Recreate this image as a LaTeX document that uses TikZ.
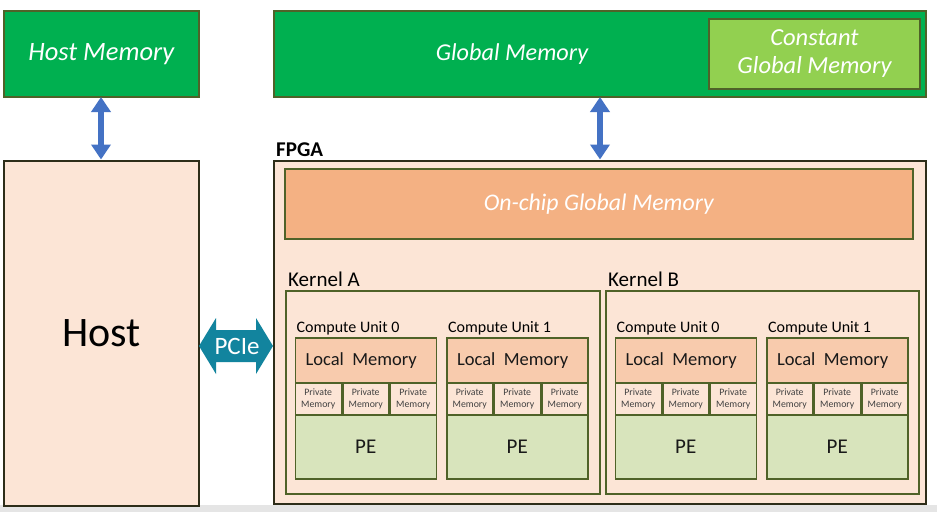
\documentclass[tikz,border=0pt]{standalone}
\usepackage{fontspec}
\setmainfont{Carlito}
\usetikzlibrary{arrows.meta,positioning}
\definecolor{gm}{RGB}{0,176,80}
\definecolor{cgm}{RGB}{146,208,80}
\definecolor{peach}{RGB}{252,229,214}
\definecolor{locm}{RGB}{248,203,173}
\definecolor{ocm}{RGB}{244,177,131}
\definecolor{pegreen}{RGB}{216,228,188}
\definecolor{olive}{RGB}{79,98,40}
\definecolor{darkb}{RGB}{45,45,25}
\definecolor{arrblue}{RGB}{68,114,196}
\definecolor{pcieteal}{RGB}{18,132,158}
\tikzset{
  box/.style={draw=olive, line width=1.5pt, anchor=north west, inner sep=0pt, align=center},
  lbl/.style={anchor=base west, inner sep=0pt},
  vbus/.style={arrblue, line width=6.5pt, {Triangle[width=19pt,length=15pt]}-{Triangle[width=19pt,length=15pt]}, shorten <=0.5pt, shorten >=0.5pt},
  privbox/.style={box, fill=peach, minimum width=46pt, minimum height=31pt, font=\fontsize{9.8}{11.5}\selectfont, text=black!75},
}
\newcommand{\cunit}[3]{%
  \node[lbl, font=\fontsize{16}{18}\selectfont] (#1lab) at (#2+2,332) {#3};
  \node[box, fill=locm, minimum width=141pt, minimum height=45pt, font=\fontsize{18.5}{22}\selectfont, text=black!90] (#1lm) at (#2,337) {Local\ \ Memory\hspace*{9pt}};
  \node[privbox] (#1p1) at (#2,382.5) {Private\\Memory};
  \node[privbox] (#1p2) at (#2+47.5,382.5) {Private\\Memory};
  \node[privbox] (#1p3) at (#2+95,382.5) {Private\\Memory};
  \node[box, fill=pegreen, minimum width=141pt, minimum height=64pt, font=\fontsize{21}{24}\selectfont, text=black!90] (#1pe) at (#2,414) {PE};
}
\begin{document}
\begin{tikzpicture}[x=1pt,y=-1pt]
\useasboundingbox (0,0) rectangle (937,512);
\fill[white] (0,0) rectangle (937,512);
\fill[black!10] (0,505) rectangle (937,512);
% top memories
\node[box, fill=gm, text=white, font=\itshape\fontsize{26.5}{30}\selectfont, minimum width=195pt, minimum height=86pt] (hm) at (3,10) {Host Memory};
\node[box, fill=gm, minimum width=652pt, minimum height=86pt] (gmem) at (273,10) {};
\node[text=white, font=\itshape\fontsize{24.2}{28}\selectfont, inner sep=0pt] (gmlab) at (512,54) {Global Memory};
\node[box, fill=cgm, text=white, line width=2pt, minimum width=211pt, minimum height=70pt, font=\itshape\fontsize{24.5}{28}\selectfont] (cgmem) at (708,18) {Constant\\Global Memory};
% host
\node[box, draw=darkb, fill=peach, minimum width=195pt, minimum height=345pt, font=\fontsize{42}{46}\selectfont] (host) at (3,160) {Host};
% FPGA
\node[lbl, font=\bfseries\fontsize{21}{24}\selectfont] (fpgalab) at (276,156) {FPGA};
\node[box, draw=darkb, fill=peach, minimum width=652pt, minimum height=343pt] (fpga) at (273,160) {};
\node[box, fill=ocm, text=white, minimum width=628pt, minimum height=70pt, font=\itshape\fontsize{23.8}{27}\selectfont] (ocgm) at (284,168) {On-chip Global Memory};
% buses
\coordinate (hmb) at (101,96.5);
\coordinate (hostt) at (101,160);
\draw[vbus] (hmb) -- (hostt);
\coordinate (gmb) at (600,96.5);
\coordinate (fpgat) at (600,160);
\draw[vbus] (gmb) -- (fpgat);
% PCIe
\fill[pcieteal] (199,346) -- (216,318) -- (216,330) -- (256,330) -- (256,318) -- (273,346) -- (256,374) -- (256,362) -- (216,362) -- (216,374) -- cycle;
\node[text=white, font=\fontsize{25}{28}\selectfont, inner sep=0pt] (pcie) at (237,346) {PCIe};
% kernels
\node[lbl, font=\fontsize{21}{24}\selectfont] (kalab) at (288,286) {Kernel A};
\node[box, minimum width=314pt, minimum height=203pt] (ka) at (285,290) {};
\node[lbl, font=\fontsize{21}{24}\selectfont] (kblab) at (608,286) {Kernel B};
\node[box, minimum width=313pt, minimum height=203pt] (kb) at (605,290) {};
\cunit{kacua}{294.5}{Compute Unit 0}
\cunit{kacub}{446}{Compute Unit 1}
\cunit{kbcua}{614.5}{Compute Unit 0}
\cunit{kbcub}{766}{Compute Unit 1}
\end{tikzpicture}
\end{document}
